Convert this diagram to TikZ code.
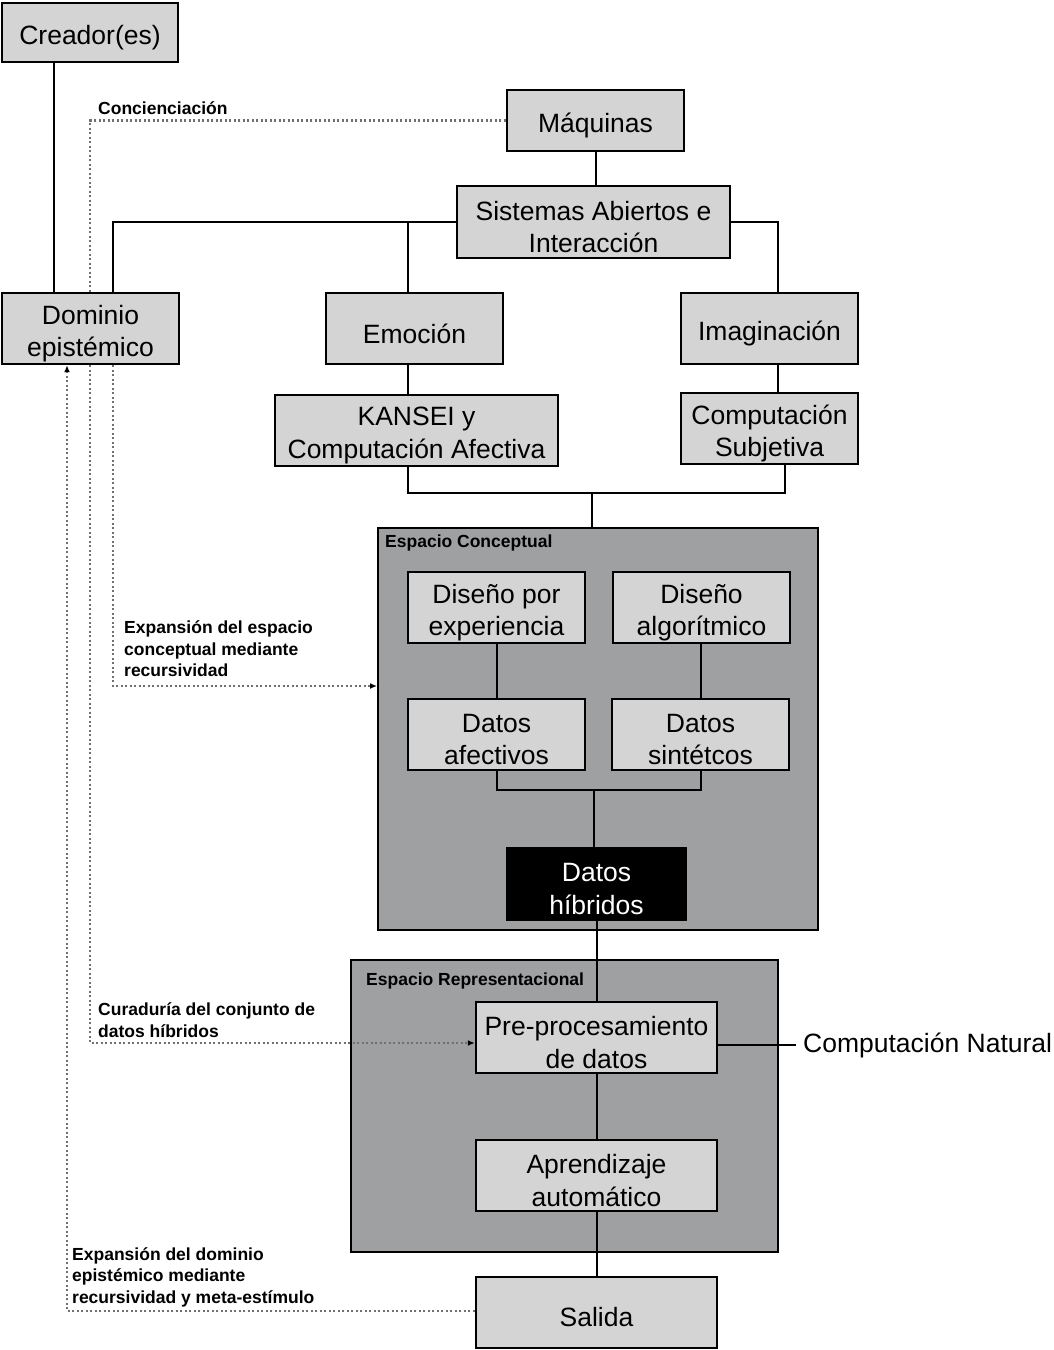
\documentclass[tikz,border=0pt]{standalone}
\usepackage{fontspec}
\setmainfont{Liberation Sans}
\usetikzlibrary{arrows.meta,calc}
\definecolor{boxgray}{RGB}{212,212,212}
\definecolor{spacegray}{RGB}{158,160,162}
\definecolor{dotgray}{RGB}{112,112,112}
\newcommand\mainsz{\fontsize{26.5}{32.5}\selectfont}
\newcommand\lblsz{\bfseries\fontsize{17.5}{21.5}\selectfont}
\begin{document}
\begin{tikzpicture}[x=1pt,y=-1pt,
 box/.style={draw=black,line width=2.4pt,fill=boxgray,inner sep=0pt},
 btxt/.style={label={[font=\mainsz,align=center,inner sep=0pt,yshift=-5pt]center:#1}},
 wtxt/.style={label={[font=\mainsz,text=white,align=center,inner sep=0pt,yshift=-5pt]center:#1}},
 spacebox/.style={draw=black,line width=2pt,fill=spacegray,inner sep=0pt},
 conn/.style={draw=black,line width=2pt},
 dots/.style={draw=dotgray,line width=2.2pt,dash pattern=on 2.2pt off 2.3pt},
 dotarrow/.style={dots,-{Latex[length=7pt,width=6pt,black]}},
 lbl/.style={font=\lblsz,align=left,inner sep=0pt,anchor=west},
 tag/.style={font=\lblsz,inner sep=0pt,anchor=base west}]
\useasboundingbox (0,0) rectangle (1054,1350);
\fill[white] (0,0) rectangle (1054,1350);

% containers
\node[spacebox,minimum width=440pt,minimum height=402pt] (ec) at (598,729) {};
\node[spacebox,minimum width=427pt,minimum height=292pt] (er) at (564.5,1106) {};
\node[tag] (ect) at (385,547) {Espacio Conceptual};
\node[tag] (ert) at (366,985) {Espacio Representacional};

% coordinates
\coordinate (jC) at (54,0);
\coordinate (jL) at (113,222);
\coordinate (jE) at (408,222);
\coordinate (jR) at (778,222);
\coordinate (jS) at (785,0);
\coordinate (m1) at (592,493);
\coordinate (m2) at (594,790);
\coordinate (d1) at (90,121);
\coordinate (d2) at (113,686);
\coordinate (d3) at (90,1043);
\coordinate (d4) at (67,1311);

% boxes
\node[box,minimum width=176pt,minimum height=59pt,btxt={Creador(es)}] (cre) at (90,32.5) {};
\node[box,minimum width=177pt,minimum height=61pt,btxt={Máquinas}] (maq) at (595.5,120.5) {};
\node[box,minimum width=273pt,minimum height=72pt,btxt={Sistemas Abiertos e\\Interacción}] (sis) at (593.5,222) {};
\node[box,minimum width=177pt,minimum height=71pt,btxt={Dominio\\epistémico}] (dom) at (90.5,328.5) {};
\node[box,minimum width=177pt,minimum height=71pt,btxt={Emoción}] (emo) at (414.5,328.5) {};
\node[box,minimum width=177pt,minimum height=71pt,btxt={Imaginación}] (ima) at (769.5,328.5) {};
\node[box,minimum width=283pt,minimum height=71pt,btxt={KANSEI y\\Computación Afectiva}] (kan) at (416.5,430.5) {};
\node[box,minimum width=177pt,minimum height=71pt,btxt={Computación\\Subjetiva}] (csu) at (769.5,428.5) {};
\node[box,minimum width=177pt,minimum height=71pt,btxt={Diseño por\\experiencia}] (dex) at (496.5,607.5) {};
\node[box,minimum width=177pt,minimum height=71pt,btxt={Diseño\\algorítmico}] (dal) at (701.5,607.5) {};
\node[box,minimum width=177pt,minimum height=71pt,btxt={Datos\\afectivos}] (daf) at (496.5,734.5) {};
\node[box,minimum width=177pt,minimum height=71pt,btxt={Datos\\sintétcos}] (dsi) at (700.5,734.5) {};
\node[box,fill=black,minimum width=179pt,minimum height=72pt,wtxt={Datos\\híbridos}] (dhi) at (596.5,884) {};
\node[box,minimum width=241pt,minimum height=71pt,btxt={Pre-procesamiento\\de datos}] (pre) at (596.5,1037.5) {};
\node[box,minimum width=241pt,minimum height=71pt,btxt={Aprendizaje\\automático}] (apr) at (596.5,1175.5) {};
\node[box,minimum width=241pt,minimum height=71pt,btxt={Salida}] (sal) at (596.5,1312.5) {};
\node[font=\mainsz,anchor=west,inner xsep=7pt,inner ysep=0pt] (cn) at (796,1045) {Computación Natural};

% connectors
\draw[conn] (cre.south -| jC) -- (dom.north -| jC);
\draw[conn] (maq.south) -- (maq.south |- sis.north);
\draw[conn] (sis.west) -- (jL) -- (dom.north -| jL);
\draw[conn] (jE) -- (emo.north -| jE);
\draw[conn] (sis.east) -| (ima.north -| jR);
\draw[conn] (emo.south -| jE) -- (kan.north -| jE);
\draw[conn] (ima.south -| jR) -- (csu.north -| jR);
\draw[conn] (kan.south -| jE) |- (m1 -| jS) -- (csu.south -| jS);
\draw[conn] (m1) -- (ec.north -| m1);
\draw[conn] (dex.south) -- (daf.north);
\draw[conn] (dal.south -| dsi.south) -- (dsi.north);
\draw[conn] (daf.south) |- (dsi.south |- m2) -- (dsi.south);
\draw[conn] (m2) -- (m2 |- dhi.north);
\draw[conn] (dhi.south) -- (pre.north);
\draw[conn] (pre.south) -- (apr.north);
\draw[conn] (apr.south) -- (sal.north);
\draw[conn] (pre.east |- cn.west) -- (cn.west);

% dotted feedback paths
\draw[dots] (maq.west) -| (dom.north -| d1);
\draw[dotarrow] (dom.south -| d2) |- (ec.west |- d2);
\draw[dotarrow] (dom.south -| d3) |- (pre.west |- d3);
\draw[dotarrow] (sal.west |- d4) -| (dom.south -| d4);

% labels
\node[tag] (l1) at (98,114) {Concienciación};
\node[lbl] (l2) at (124,649) {Expansión del espacio\\conceptual mediante\\recursividad};
\node[lbl] (l3) at (98,1020) {Curaduría del conjunto de\\datos híbridos};
\node[lbl] (l4) at (72,1277) {Expansión del dominio\\epistémico mediante\\recursividad y meta-estímulo};
\end{tikzpicture}
\end{document}
